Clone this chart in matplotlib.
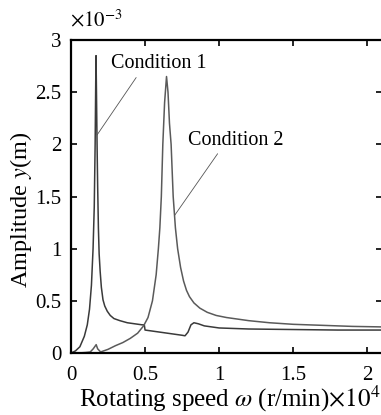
import matplotlib
matplotlib.use("Agg")
from matplotlib import pyplot as plt
import numpy as np

# speed in 1e4 r/min, amplitude in 1e-3 m
speed1 = [0, 0.03, 0.06, 0.09, 0.11, 0.125, 0.138, 0.149, 0.157, 0.163, 0.167, 0.169,
          0.172, 0.176, 0.18, 0.185, 0.19, 0.197, 0.205, 0.216, 0.228, 0.245, 0.265,
          0.29, 0.33, 0.38, 0.43, 0.48, 0.495, 0.5, 0.55, 0.6, 0.65, 0.7, 0.75, 0.77,
          0.79, 0.81, 0.83, 0.86, 0.9, 1.0, 1.2, 1.5, 1.8, 2.1]
amp1 = [0, 0.02, 0.06, 0.16, 0.27, 0.42, 0.65, 1.0, 1.4, 2.0, 2.6, 2.85,
        2.5, 2.0, 1.6, 1.2, 0.95, 0.78, 0.63, 0.51, 0.45, 0.4, 0.36,
        0.33, 0.31, 0.29, 0.28, 0.27, 0.27, 0.22, 0.21, 0.2, 0.19, 0.18, 0.17, 0.165,
        0.2, 0.27, 0.29, 0.28, 0.26, 0.24, 0.23, 0.225, 0.22, 0.22]

speed2 = [0, 0.05, 0.1, 0.13, 0.15, 0.17, 0.18, 0.2, 0.25, 0.3, 0.35, 0.4, 0.45,
          0.49, 0.52, 0.55, 0.575, 0.59, 0.6, 0.61, 0.62, 0.632, 0.645, 0.655, 0.665,
          0.676, 0.69, 0.705, 0.72, 0.74, 0.76, 0.78, 0.8, 0.83, 0.87, 0.92, 0.98,
          1.05, 1.1, 1.2, 1.34, 1.5, 1.7, 1.9, 2.1]
amp2 = [0, 0, 0.005, 0.01, 0.04, 0.08, 0.04, 0.01, 0.035, 0.07, 0.1, 0.14, 0.19,
        0.26, 0.34, 0.5, 0.75, 1.0, 1.2, 1.5, 2.0, 2.4, 2.65, 2.5, 2.2,
        2.0, 1.5, 1.2, 1.0, 0.82, 0.69, 0.6, 0.54, 0.48, 0.43, 0.39, 0.36,
        0.34, 0.33, 0.31, 0.29, 0.275, 0.265, 0.255, 0.25]

xticks = [0, 0.5, 1, 1.5, 2]
yticks = [0, 0.5, 1, 1.5, 2, 2.5, 3]

plt.rcParams['font.family'] = ['Liberation Serif', 'DejaVu Serif']
plt.rcParams['mathtext.fontset'] = 'stix'

fig = plt.figure(figsize=(3.81, 4.15), dpi=100)
ax = fig.add_axes([71/381, 62/415, 311/381, 313/415])

ax.plot(speed1, amp1, color='#3a3a3a', lw=1.1)
ax.plot(speed2, amp2, color='#5a5a5a', lw=1.1)

ax.set_xlim(0, 2.1)
ax.set_ylim(0, 3)
ax.set_xticks(xticks)
ax.set_xticklabels(['0', '0.5', '1', '1.5', '2'])
ax.set_yticks(yticks)
ax.set_yticklabels(['0', '0.5', '1', '1.5', '2', '2.5', '3'])
ax.tick_params(direction='in', length=4, width=1.2, labelsize=15, top=True, right=True)
ax.tick_params(axis='x', pad=9)
ax.tick_params(axis='y', pad=7)
for s in ['left', 'bottom', 'top']:
    ax.spines[s].set_linewidth(1.6)
ax.spines['right'].set_linewidth(1.0)

# leader lines and labels
ax.annotate('', xy=(0.176, 2.09), xytext=(0.44, 2.64),
            arrowprops=dict(arrowstyle='-', color='#555555', lw=0.6,
                            shrinkA=0, shrinkB=0))
ax.annotate('', xy=(0.70, 1.32), xytext=(0.99, 1.91),
            arrowprops=dict(arrowstyle='-', color='#555555', lw=0.6,
                            shrinkA=0, shrinkB=0))
ax.text(0.27, 2.68, 'Condition 1', fontsize=14.5, ha='left', va='bottom')
ax.text(0.79, 1.95, 'Condition 2', fontsize=14.5, ha='left', va='bottom')

fig.text(21/381, 1 - 210/415, 'Amplitude $y$(m)', rotation=90, fontsize=17.5,
         ha='center', va='center')
fig.text(79/381, 1 - 407/415, r'Rotating speed $\omega$ (r/min)$\times10^4$',
         fontsize=18, ha='left', va='baseline')
fig.text(70/381, 1 - 26/415, r'$\times10^{-3}$', fontsize=15, ha='left', va='baseline')

fig.savefig('out.png', dpi=100)
